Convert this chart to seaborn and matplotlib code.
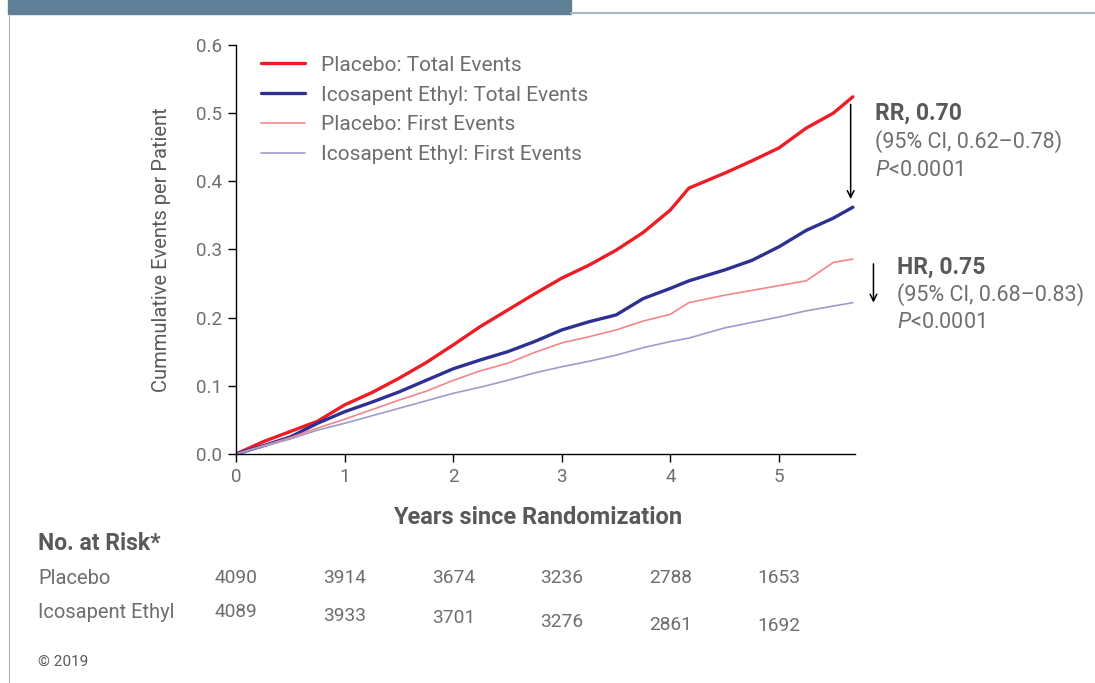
import numpy as np
import pandas as pd
import matplotlib
matplotlib.use("Agg")
import matplotlib.pyplot as plt
from matplotlib.patches import Rectangle
from matplotlib.lines import Line2D
from matplotlib import transforms
import seaborn as sns

# ---------------- data ----------------
years = [0, 0.25, 0.5, 0.75, 1, 1.25, 1.5, 1.75, 2, 2.25, 2.5, 2.75, 3,
         3.25, 3.5, 3.75, 4, 4.17, 4.5, 4.75, 5, 5.25, 5.5, 5.68]
placebo_total = [0, 0.018, 0.033, 0.048, 0.072, 0.090, 0.111, 0.134, 0.160,
                 0.187, 0.211, 0.235, 0.258, 0.277, 0.299, 0.325, 0.358,
                 0.390, 0.412, 0.430, 0.449, 0.478, 0.500, 0.524]
ice_total = [0, 0.012, 0.025, 0.045, 0.062, 0.076, 0.091, 0.108, 0.125,
             0.138, 0.150, 0.165, 0.182, 0.194, 0.204, 0.228, 0.243, 0.254,
             0.270, 0.284, 0.304, 0.328, 0.346, 0.362]
placebo_first = [0, 0.012, 0.024, 0.038, 0.051, 0.065, 0.079, 0.092, 0.108,
                 0.122, 0.133, 0.149, 0.163, 0.172, 0.182, 0.195, 0.205,
                 0.222, 0.233, 0.240, 0.247, 0.254, 0.281, 0.286]
ice_first = [0, 0.011, 0.022, 0.035, 0.045, 0.056, 0.067, 0.078, 0.089,
             0.098, 0.108, 0.119, 0.128, 0.136, 0.145, 0.156, 0.165, 0.170,
             0.185, 0.193, 0.201, 0.210, 0.217, 0.222]

series_labels = ["Placebo: Total Events", "Icosapent Ethyl: Total Events",
                 "Placebo: First Events", "Icosapent Ethyl: First Events"]
risk_years = [0, 1, 2, 3, 4, 5]
risk_placebo = [4090, 3914, 3674, 3236, 2788, 1653]
risk_ice = [4089, 3933, 3701, 3276, 2861, 1692]
y_ticks = [0.0, 0.1, 0.2, 0.3, 0.4, 0.5, 0.6]
x_ticks = [0, 1, 2, 3, 4, 5]

# ---------------- style ----------------
sns.set_theme(style="white")
plt.rcParams['font.family'] = ['Roboto', 'DejaVu Sans']
plt.rcParams['mathtext.fontset'] = 'custom'
plt.rcParams['mathtext.rm'] = 'Roboto'
plt.rcParams['mathtext.it'] = 'Roboto:italic'

GREY = '#6d6e71'
DARK = '#58595b'
colors = ['#ee1c25', '#2e3192', '#f4868a', '#9d9ccc']
widths = [2.4, 2.4, 1.2, 1.2]

W, H = 1095, 683
fig = plt.figure(figsize=(W / 100, H / 100), dpi=100)
fig.patch.set_facecolor('white')


def fx(px):
    return px / W


def fy(py):
    return 1 - py / H


ax = fig.add_axes([fx(236), fy(454), fx(855) - fx(236), fy(45) - fy(454)])

df = pd.DataFrame({
    'year': years * 4,
    'value': placebo_total + ice_total + placebo_first + ice_first,
    'series': sum([[s] * len(years) for s in series_labels], []),
})
for lab, c, lw in zip(series_labels, colors, widths):
    sub = df[df['series'] == lab]
    sns.lineplot(data=sub, x='year', y='value', ax=ax, color=c, linewidth=lw,
                 label=lab, legend=False)

ax.set_xlim(0, 5.7)
ax.set_ylim(0, 0.6)
ax.set_xticks(x_ticks)
ax.set_yticks(y_ticks)
ax.set_yticklabels([f"{v:.1f}" for v in y_ticks])
for s in ['top', 'right']:
    ax.spines[s].set_visible(False)
for s in ['left', 'bottom']:
    ax.spines[s].set_color('black')
    ax.spines[s].set_linewidth(1.0)
ax.tick_params(axis='both', direction='out', length=6, width=1, color='black',
               labelsize=13.5, labelcolor=GREY, pad=4, left=True, bottom=True)
ax.set_ylabel("Cummulative Events per Patient", fontsize=14.5, color=DARK,
              labelpad=18)
ax.set_xlabel("Years since Randomization", fontsize=17, fontweight='bold',
              color=DARK, labelpad=18)
ax.xaxis.set_label_coords((538 - 236) / 619, (454 - 506) / 409)

handles = [Line2D([0], [0], color=c, lw=lw) for c, lw in zip(colors, widths)]
leg = ax.legend(handles, series_labels, loc='upper left',
                bbox_to_anchor=(fx(242), fy(37)),
                bbox_transform=fig.transFigure, frameon=False, fontsize=15,
                handlelength=2.1, handletextpad=0.8, labelspacing=0.52)
for t in leg.get_texts():
    t.set_color(GREY)

# arrows
ax.annotate('', xy=(5.66, 0.370), xytext=(5.66, 0.517),
            arrowprops=dict(arrowstyle='->', color='black', lw=1.1),
            annotation_clip=False)
ax.annotate('', xy=(5.87, 0.218), xytext=(5.87, 0.283),
            arrowprops=dict(arrowstyle='->', color='black', lw=1.1),
            annotation_clip=False)

# annotations
AF = 15.5
fig.text(fx(875), fy(113), "RR, 0.70", fontsize=16.5, fontweight='bold',
         color=DARK, va='center', ha='left')
fig.text(fx(875), fy(142), "(95% CI, 0.62\u20130.78)", fontsize=AF,
         color=GREY, va='center', ha='left')
fig.text(fx(875), fy(170), r"$\mathit{P}$<0.0001", fontsize=AF,
         color=GREY, va='center', ha='left')
fig.text(fx(897), fy(267), "HR, 0.75", fontsize=16.5, fontweight='bold',
         color=DARK, va='center', ha='left')
fig.text(fx(897), fy(295), "(95% CI, 0.68\u20130.83)", fontsize=AF,
         color=GREY, va='center', ha='left')
fig.text(fx(897), fy(323), r"$\mathit{P}$<0.0001", fontsize=AF,
         color=GREY, va='center', ha='left')

# risk table
fig.text(fx(38), fy(543), "No. at Risk*", fontsize=16.5, fontweight='bold',
         color=DARK, va='center', ha='left')
fig.text(fx(38), fy(578), "Placebo", fontsize=14.5, color=GREY, va='center')
fig.text(fx(38), fy(612), "Icosapent Ethyl", fontsize=14.5, color=GREY,
         va='center')
trans = transforms.blended_transform_factory(ax.transData, fig.transFigure)
ice_row_px = [612, 616, 618, 622, 625, 626]
for xv, n in zip(risk_years, risk_placebo):
    ax.text(xv, fy(578), str(n), transform=trans, ha='center', va='center',
            fontsize=13.8, color=GREY)
for xv, n, py in zip(risk_years, risk_ice, ice_row_px):
    ax.text(xv, fy(py), str(n), transform=trans, ha='center', va='center',
            fontsize=13.8, color=GREY)
fig.text(fx(38), fy(662), "\u00a9 2019", fontsize=11, color=DARK,
         va='center')

# header decoration
fig.patches.append(Rectangle((fx(8), fy(14)), fx(571) - fx(8), 14 / H,
                             transform=fig.transFigure, color='#5f7f96',
                             zorder=0))
fig.lines.append(Line2D([fx(571), 1], [fy(13), fy(13)],
                        transform=fig.transFigure, color='#a9bbc9', lw=1.6))
fig.lines.append(Line2D([fx(8.5), fx(8.5)], [fy(14), 0],
                        transform=fig.transFigure, color='#b0b0b0', lw=0.8))

fig.savefig("out.png", dpi=100)
